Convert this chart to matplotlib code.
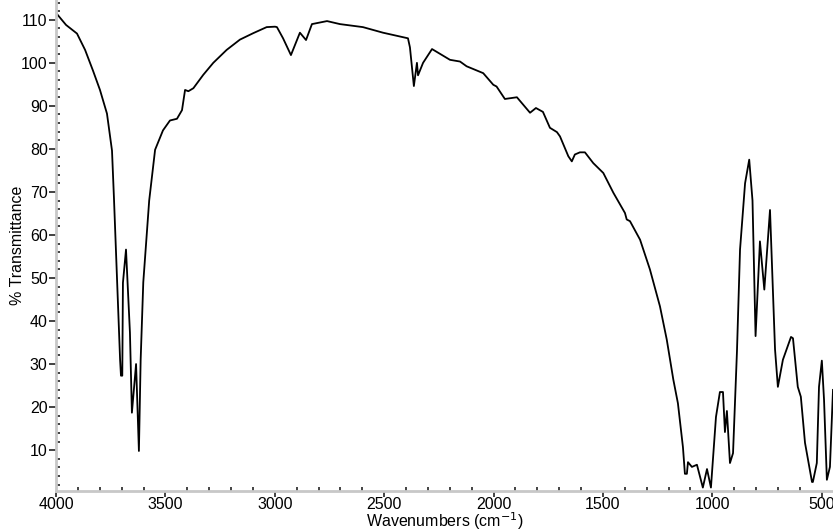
import matplotlib
matplotlib.use("Agg")
import matplotlib.pyplot as plt
from matplotlib.ticker import MultipleLocator

plt.rcParams['font.family'] = ['Liberation Sans', 'DejaVu Sans']

wavenumber = [4000, 3995, 3954, 3904, 3867, 3831, 3799, 3767, 3744, 3735, 3707, 3703, 3697,
              3694, 3680, 3662, 3653, 3634, 3621, 3613, 3601, 3574, 3547, 3511, 3479, 3447,
              3424, 3410, 3395, 3372, 3327, 3281, 3220, 3159, 3098, 3037, 2999, 2990, 2962,
              2926, 2885, 2857, 2830,
              2761, 2702, 2597, 2505, 2391, 2382, 2364, 2350, 2345, 2322, 2281, 2199, 2153,
              2123, 2047, 2001, 1986,
              1948, 1893, 1833, 1806, 1774, 1742, 1710, 1696, 1658, 1642, 1628, 1605, 1582,
              1544, 1498, 1452, 1399, 1391, 1376, 1330, 1285, 1239, 1208, 1178, 1157, 1134,
              1125, 1116, 1111, 1093,
              1070, 1043, 1024, 1006, 983, 965, 951, 942, 933, 919, 905, 887, 873, 850, 831,
              816, 802, 782, 762, 736, 713, 700, 677, 640, 631, 609, 595, 576, 544, 540, 522,
              512, 499, 489, 476, 462, 448]
transmittance = [111.7, 111.3, 108.8, 106.8, 103.0, 98.2, 93.7, 88.2, 79.6, 68.5, 31.0, 27.3, 27.3,
                 48.9, 56.6, 37.3, 18.7, 30.0, 9.8, 31.0, 49.0, 68.0, 79.8, 84.3, 86.6, 87.0,
                 89.0, 93.7, 93.4, 94.1, 97.2, 100.0, 103.0, 105.4, 106.9, 108.3, 108.4, 108.3, 105.7,
                 101.8, 107.0, 105.3, 109.0,
                 109.7, 109.0, 108.3, 107.0, 105.7, 103.6, 94.6, 100.0, 97.1, 100.0, 103.2, 100.7, 100.3,
                 99.2, 97.6, 94.9, 94.5,
                 91.6, 92.0, 88.4, 89.5, 88.6, 84.9, 83.9, 82.9, 78.3, 77.1, 78.7, 79.2, 79.2,
                 76.7, 74.4, 69.8, 65.1, 63.6, 63.2, 58.9, 52.0, 43.4, 35.7, 26.4, 20.9, 10.7,
                 4.5, 4.5, 7.2, 6.1,
                 6.6, 1.3, 5.6, 1.3, 17.7, 23.5, 23.5, 14.2, 19.1, 7.0, 9.3, 33.0, 56.6, 72.0, 77.5,
                 68.0, 36.5, 58.5, 47.3, 65.8, 33.4, 24.7, 31.0, 36.3, 36.0, 24.7, 22.4, 11.7, 2.6, 2.6, 7.0,
                 24.7, 30.8, 21.7, 3.1, 6.1, 24.0]

x_ticks = [4000, 3500, 3000, 2500, 2000, 1500, 1000, 500]
y_ticks = [10, 20, 30, 40, 50, 60, 70, 80, 90, 100, 110]

fig = plt.figure(figsize=(8.33, 5.31), dpi=100)
ax = fig.add_axes([56/833, 40/531, 1 - 56/833, 1 - 40/531])
ax.plot(wavenumber, transmittance, color='black', lw=1.3)

ax.set_xlim(4000, 448)
ax.set_ylim(0.5, 114.6)
ax.set_xticks(x_ticks)
ax.set_yticks(y_ticks)
ax.xaxis.set_minor_locator(MultipleLocator(100))
ax.yaxis.set_minor_locator(MultipleLocator(2))

for side in ['top', 'right']:
    ax.spines[side].set_visible(False)
for side in ['left', 'bottom']:
    ax.spines[side].set_color('#c8c8c8')
    ax.spines[side].set_linewidth(2)

ax.tick_params(which='major', direction='out', length=5, width=1.2, color='#222222',
               labelsize=11.5, pad=1)
ax.tick_params(axis='x', which='major', length=4, pad=0)
ax.tick_params(which='minor', direction='in', length=3, width=1.2, color='#222222')

ax.set_xlabel('Wavenumbers (cm$^{-1}$)', fontsize=11.5)
ax.xaxis.set_label_coords(0.5, -0.040)
ax.set_ylabel('% Transmittance', fontsize=11.5)
ax.yaxis.set_label_coords(-0.049, 0.5)
ax.yaxis.label.set_verticalalignment('center')

fig.savefig('out.png', dpi=100)
